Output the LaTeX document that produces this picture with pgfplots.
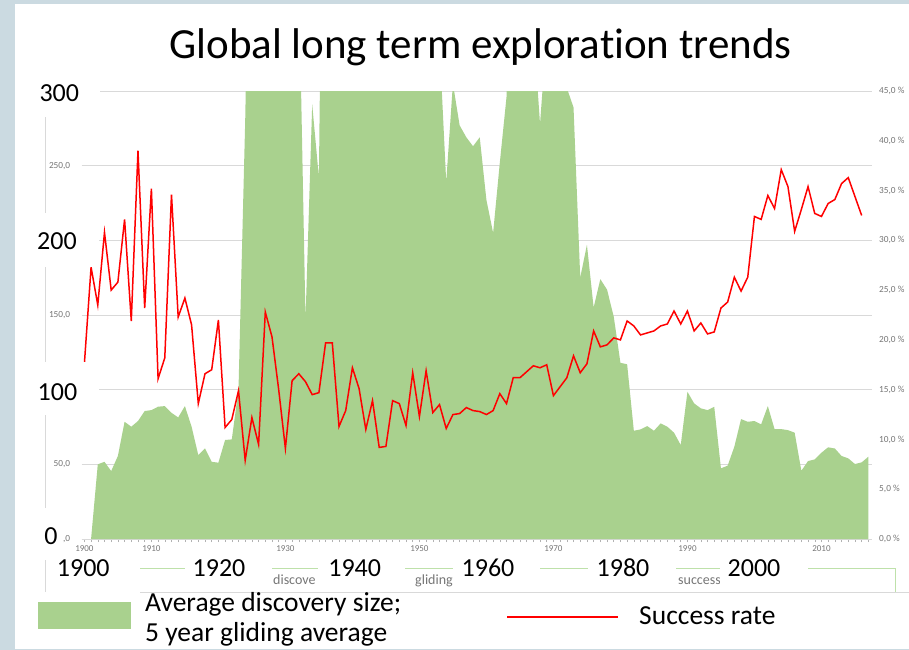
\documentclass[border=0pt]{standalone}
\usepackage{pgfplots}
\pgfplotsset{compat=1.18}
\usepackage{pgfplotstable}
\usepackage{fontspec}
\setmainfont{Carlito}[Ligatures=NoCommon]
\definecolor{areagreen}{RGB}{169,209,142}
\definecolor{slide}{RGB}{203,218,225}
\definecolor{gridgray}{RGB}{217,217,217}
\definecolor{labgray}{RGB}{118,118,118}
\definecolor{legline}{RGB}{190,225,170}

% Average discovery size, 5 year gliding average (left axis)
\pgfplotstableread{
year val
1901 0
1902 50.0
1903 51.7
1904 45.5
1905 55.6
1906 78.5
1907 75.2
1908 79.0
1909 85.7
1910 86.3
1911 88.6
1912 89.0
1913 84.5
1914 81.4
1915 89.0
1916 75.2
1917 56.2
1918 60.7
1919 51.7
1920 51.1
1921 66.3
1922 66.7
1923 100
1924 280
1925 520
1926 480
1927 450
1928 500
1929 470
1930 430
1931 420
1932 380
1933 147
1934 291
1935 242
1936 650
1937 600
1938 550
1939 520
1940 560
1941 600
1942 580
1943 540
1944 500
1945 520
1946 560
1947 540
1948 500
1949 480
1950 450
1951 420
1952 400
1953 332
1954 239
1955 305
1956 277
1957 269
1958 263
1959 269
1960 227
1961 205
1962 252
1963 296
1964 420
1965 450
1966 420
1967 343
1968 278
1969 339
1970 420
1971 380
1972 302
1973 289
1974 175
1975 197
1976 155
1977 174
1978 167
1979 149
1980 118
1981 117
1982 72.5
1983 73.4
1984 75.6
1985 72.5
1986 77.4
1987 75.2
1988 71.2
1989 62.9
1990 98.6
1991 90.8
1992 87.5
1993 86.3
1994 88.5
1995 47.3
1996 49.1
1997 61.8
1998 80.3
1999 78.5
2000 79.0
2001 76.8
2002 89.0
2003 73.6
2004 73.6
2005 72.9
2006 71.2
2007 45.7
2008 52.2
2009 53.3
2010 57.8
2011 61.4
2012 60.6
2013 55.6
2014 54.0
2015 50.2
2016 51.3
2017 55.1
}\discovery

% Success rate in percent (right axis)
\pgfplotstableread{
year rate
1900 17.6
1901 27.3
1902 23.5
1903 30.8
1904 25.0
1905 25.8
1906 32.1
1907 21.9
1908 39.0
1909 23.2
1910 35.2
1911 16.1
1912 18.2
1913 34.6
1914 22.3
1915 24.2
1916 21.5
1917 13.6
1918 16.6
1919 17.0
1920 22.0
1921 11.2
1922 12.0
1923 14.9
1924 7.9
1925 12.2
1926 9.5
1927 22.8
1928 20.3
1929 15.0
1930 9.1
1931 15.9
1932 16.6
1933 15.8
1934 14.5
1935 14.7
1936 19.7
1937 19.7
1938 11.3
1939 12.9
1940 17.2
1941 15.1
1942 11.0
1943 13.9
1944 9.2
1945 9.3
1946 13.9
1947 13.6
1948 11.4
1949 16.7
1950 12.3
1951 16.9
1952 12.7
1953 13.5
1954 11.1
1955 12.5
1956 12.6
1957 13.2
1958 12.9
1959 12.8
1960 12.5
1961 12.9
1962 14.6
1963 13.6
1964 16.2
1965 16.2
1966 16.8
1967 17.4
1968 17.2
1969 17.5
1970 14.4
1971 15.3
1972 16.2
1973 18.4
1974 16.7
1975 17.6
1976 20.9
1977 19.3
1978 19.5
1979 20.2
1980 20.0
1981 21.9
1982 21.4
1983 20.5
1984 20.7
1985 20.9
1986 21.4
1987 21.6
1988 22.9
1989 21.6
1990 22.9
1991 20.9
1992 21.7
1993 20.6
1994 20.8
1995 23.2
1996 23.8
1997 26.3
1998 24.9
1999 26.3
2000 32.4
2001 32.1
2002 34.5
2003 33.2
2004 37.1
2005 35.4
2006 30.9
2007 33.1
2008 35.4
2009 32.7
2010 32.4
2011 33.7
2012 34.1
2013 35.7
2014 36.3
2015 34.4
2016 32.5
}\success

\begin{document}
\begin{tikzpicture}
\useasboundingbox (0,0) rectangle (909bp,-650bp);
% slide background
\begin{scope}[x=1bp,y=-1bp]
\fill[white] (0,0) rectangle (909,650);
\fill[slide] (0,0) rectangle (15,650);
\fill[slide] (0,0) rectangle (909,4);
\fill[slide] (0,648.5) rectangle (909,650);
\end{scope}

\begin{axis}[
  at={(81.7bp,-539bp)}, anchor=south west,
  scale only axis, width=790bp, height=448bp,
  xmin=1899.6, xmax=2017.5, ymin=0, ymax=300,
  axis x line*=bottom, axis y line*=left,
  y axis line style={draw=none},
  x axis line style={draw=gridgray, line width=0.8bp, -},
  ymajorgrids, major grid style={draw=gridgray, line width=0.8bp},
  ytick={0,50,100,150,200,250,300},
  yticklabels={{,0},{50,0},{},{150,0},{},{250,0},{}},
  ytick style={draw=none},
  yticklabel style={font=\fontsize{9.3bp}{11bp}\selectfont, text=labgray, anchor=east, xshift=-5bp},
  xtick={1900,1910,1930,1950,1970,1990,2010},
  xticklabels={1900,1910,1930,1950,1970,1990,2010},
  minor xtick={1900,1901,...,2017},
  tick align=outside,
  xtick style={draw=black!30, line width=0.5bp},
  major tick length=3bp, minor tick length=3bp,
  xticklabel style={font=\fontsize{9bp}{11bp}\selectfont, text=labgray, yshift=0bp},
]
\addplot[fill=areagreen, draw=none] table[x=year,y=val]{\discovery} \closedcycle;
\end{axis}

\begin{axis}[
  at={(81.7bp,-539bp)}, anchor=south west,
  scale only axis, width=790bp, height=448bp,
  xmin=1899.6, xmax=2017.5, ymin=0, ymax=45,
  hide x axis,
  axis y line*=right,
  y axis line style={draw=none},
  ytick={0,5,...,45},
  yticklabels={{0,0 \%},{5,0 \%},{10,0 \%},{15,0 \%},{20,0 \%},{25,0 \%},{30,0 \%},{35,0 \%},{40,0 \%},{45,0 \%}},
  ytick style={draw=none},
  yticklabel style={font=\fontsize{9.3bp}{11bp}\selectfont, text=labgray, anchor=west, xshift=4bp},
]
\addplot[red, line width=1.5bp] table[x=year,y=rate]{\success};
\end{axis}

\begin{scope}[x=1bp,y=-1bp]
% remnants of frames
\draw[gridgray, line width=0.8bp] (45.5,110) -- (45.5,592);
\draw[legline, line width=1bp] (140,568) -- (895,568) -- (895,592);
\draw[gridgray, line width=0.8bp] (140,592) -- (909,592);
% truncated original legend texts
\node[anchor=base west, inner sep=0, text=labgray, font=\fontsize{14bp}{16bp}\selectfont] at (273,584) {discove};
\node[anchor=base west, inner sep=0, text=labgray, font=\fontsize{14bp}{16bp}\selectfont] at (415,584) {gliding};
\node[anchor=base west, inner sep=0, text=labgray, font=\fontsize{14bp}{16bp}\selectfont] at (678,584) {success};
% white boxes of the big labels
\fill[white] (50,550.5) rectangle (128,591);
\fill[white] (185,551) rectangle (272,591);
\fill[white] (318,551) rectangle (405,591);
\fill[white] (453,551) rectangle (540,591);
\fill[white] (588,551) rectangle (676,591);
\fill[white] (720,551) rectangle (808,591);
\fill[white] (28,65) rectangle (100,117);
\fill[white] (28,213) rectangle (99,267);
\fill[white] (28,362) rectangle (99,415);
\fill[white] (28,508) rectangle (63,560);
% big labels
\begin{scope}[every node/.style={font=\fontsize{26bp}{30bp}\selectfont, inner sep=0, anchor=center}]
\node at (83.3,568) {1900};
\node at (219,568) {1920};
\node at (354.7,568) {1940};
\node at (488,568) {1960};
\node at (623,568) {1980};
\node at (754,568) {2000};
\node at (59.3,92.8) {300};
\node at (57,241) {200};
\node at (57.5,391.7) {100};
\node at (51,536.5) {0};
\end{scope}
% title
\node[anchor=base, inner sep=0, font=\fontsize{43bp}{48bp}\selectfont] at (480.5,58) {Global long term exploration trends};
% legend
\fill[areagreen] (38.3,601.7) rectangle (130.7,629.3);
\node[anchor=base west, inner sep=0, font=\fontsize{27.5bp}{32bp}\selectfont] at (145,611.5) {Average discovery size;};
\node[anchor=base west, inner sep=0, font=\fontsize{27.5bp}{32bp}\selectfont] at (145,641) {5 year gliding average};
\draw[red, line width=2bp] (507,617) -- (618,617);
\node[anchor=base west, inner sep=0, font=\fontsize{27.5bp}{32bp}\selectfont] at (639,624) {Success rate};
\end{scope}
\end{tikzpicture}
\end{document}
